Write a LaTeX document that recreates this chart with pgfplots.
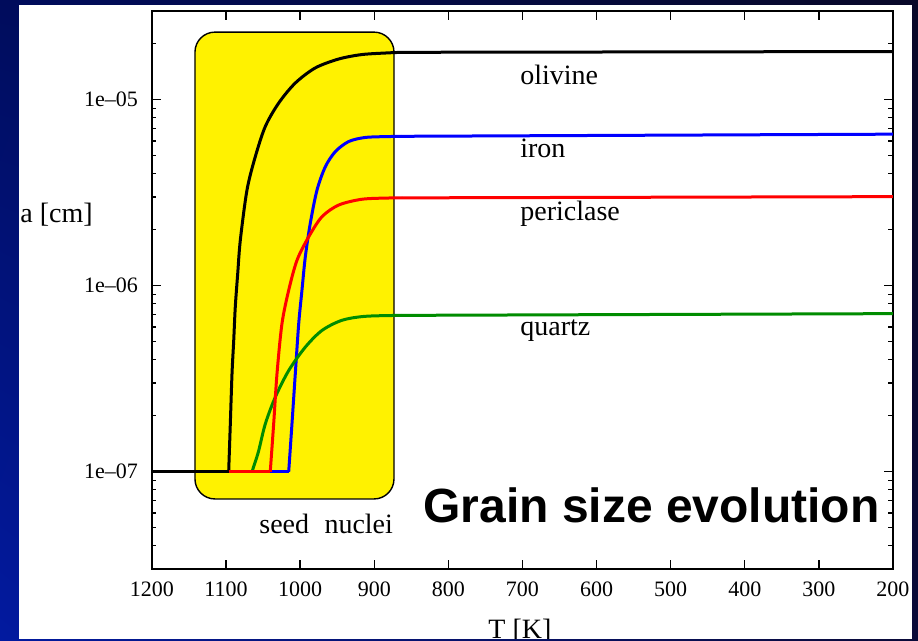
\documentclass[border=0pt]{standalone}
\usepackage{fontspec}
\setmainfont{Liberation Serif}
\newfontfamily\titlefont{Liberation Sans}
\usepackage{pgfplots}
\pgfplotsset{compat=1.18}
\usetikzlibrary{shadings}

\definecolor{quartzgreen}{RGB}{0,140,0}
\definecolor{bgUL}{RGB}{0,12,92}
\definecolor{bgUR}{RGB}{8,8,40}
\definecolor{bgLL}{RGB}{2,26,160}
\definecolor{bgLR}{RGB}{10,10,56}

\begin{document}
\begin{tikzpicture}[x=0.5pt,y=0.5pt]
\useasboundingbox (0,0) rectangle (918,641);
% slide background
\shade[upper left=bgUL, upper right=bgUR, lower left=bgLL, lower right=bgLR]
  (0,0) rectangle (918,641);
\begin{scope}
\clip (19,2) rectangle (912,636);
\fill[white] (19,2) rectangle (912,636);
\node[anchor=base west, inner sep=0pt, font=\fontsize{14}{16}\selectfont] at (20,418) {a [cm]};
\node[anchor=base west, inner sep=0pt, font=\fontsize{14}{16}\selectfont] at (488,2) {T [K]};
\begin{axis}[
  at={(76pt,36pt)}, anchor=south west,
  width=370.5pt, height=279pt, scale only axis,
  xmin=200, xmax=1200, x dir=reverse,
  ymode=log, ymin=3e-8, ymax=3e-5,
  xtick={200,300,...,1200},
  ytick={1e-7,1e-6,1e-5},
  yticklabels={1e--07,1e--06,1e--05},
  minor ytick={3e-8,4e-8,5e-8,6e-8,7e-8,8e-8,9e-8,
               2e-7,3e-7,4e-7,5e-7,6e-7,7e-7,8e-7,9e-7,
               2e-6,3e-6,4e-6,5e-6,6e-6,7e-6,8e-6,9e-6,
               2e-5,3e-5},
  tick align=inside,
  major tick length=4.5pt, minor tick length=2.25pt,
  axis line style={line width=1pt},
  every tick/.style={black, line width=0.7pt},
  tick label style={font=\fontsize{11}{13}\selectfont},
  /pgf/number format/assume math mode=true,
  /pgf/number format/1000 sep={},
  xticklabel style={yshift=-2.8pt},
  yticklabel style={xshift=-3.5pt},
  every axis plot/.style={line width=1.5pt, line join=round},
  growth/.style={smooth, tension=0.5},
]
% nucleation window
\draw[fill=yellow, line width=0.7pt, rounded corners=10pt]
  (axis cs:1142,2.31e-5) rectangle (axis cs:873.4,7.14e-8);

% olivine: seed level, growth, plateau
\addplot[black] coordinates {(1200,1e-7) (1096.5,1e-7)};
\addplot[black, growth] coordinates {
 (1096.5,1e-7) (1094.3,1.807e-7) (1092.0,3.373e-7) (1089.7,5.08e-7)
 (1087.6,7.69e-7) (1084.3,1.164e-6) (1080.8,1.758e-6) (1071.8,3.27e-6)
 (1060.6,4.94e-6) (1047.1,7.18e-6) (1029.0,9.60e-6) (1006.6,1.230e-5)
 (979.6,1.483e-5) (948.0,1.656e-5) (916.6,1.750e-5) (880.6,1.787e-5)
 (862.6,1.799e-5)
};
\addplot[black] coordinates {(862.6,1.799e-5) (200,1.816e-5)};

% iron
\addplot[blue] coordinates {(1040.4,1e-7) (1015.5,1e-7)};
\addplot[blue, growth] coordinates {
 (1015.5,1e-7) (1011.1,1.807e-7) (1006.6,3.365e-7) (1002.0,6.25e-7)
 (997.6,9.46e-7) (993.1,1.429e-6) (986.4,2.163e-6) (977.3,3.27e-6)
 (966.1,4.36e-6) (952.6,5.26e-6) (934.6,5.96e-6) (912.1,6.27e-6)
 (880.6,6.34e-6) (862.6,6.36e-6)
};
\addplot[blue] coordinates {(862.6,6.36e-6) (200,6.53e-6)};

% quartz
\addplot[quartzgreen, growth] coordinates {
 (1065.0,1e-7) (1061.0,1.12e-7) (1056.0,1.297e-7) (1047.1,1.807e-7) (1033.6,2.518e-7)
 (1015.5,3.50e-7) (993.1,4.677e-7) (970.6,5.75e-7) (943.6,6.52e-7)
 (912.1,6.85e-7) (862.6,6.93e-7)
};
\addplot[quartzgreen] coordinates {(862.6,6.93e-7) (200,7.08e-7)};

% periclase
\addplot[red] coordinates {(1096.5,1e-7) (1040.4,1e-7)};
\addplot[red, growth] coordinates {
 (1040.4,1e-7) (1035.8,1.807e-7) (1031.3,3.365e-7) (1024.6,6.25e-7)
 (1015.5,9.46e-7) (1004.3,1.371e-6) (988.5,1.833e-6) (970.6,2.350e-6)
 (948.0,2.716e-6) (916.6,2.918e-6) (880.6,2.963e-6) (862.6,2.968e-6)
};
\addplot[red] coordinates {(862.6,2.968e-6) (200,3.013e-6)};

\begin{scope}[every node/.style={anchor=base west, inner sep=0pt, font=\fontsize{14}{16}\selectfont}]
\node at (axis cs:703.4,1.205e-5) {olivine};
\node at (axis cs:703.4,4.87e-6) {iron};
\node at (axis cs:703.4,2.25e-6) {periclase};
\node at (axis cs:703.4,5.41e-7) {quartz};
\node at (axis cs:1055.6,4.63e-8) {seed\hspace{0.55em}nuclei};
\end{scope}
\node[anchor=base west, inner sep=0pt, font=\titlefont\bfseries\fontsize{24}{28}\selectfont]
  at (axis cs:834.3,5.31e-8) {Grain size evolution};
\end{axis}
\end{scope}
\end{tikzpicture}
\end{document}
